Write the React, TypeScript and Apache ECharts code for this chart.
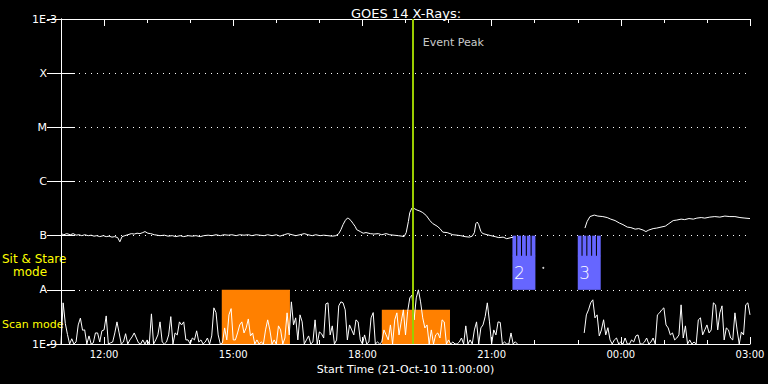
import { useEffect, useRef } from "react";
import * as echarts from "echarts";

const FONT = "DejaVu Sans";
const TITLE = "GOES 14 X-Rays:";
const X_NAME = "Start Time (21-Oct-10 11:00:00)";

// x: minutes after 21-Oct-10 11:00:00
const X_MIN = 0;
const X_MAX = 960;
const tickMinutes = [60, 240, 420, 600, 780, 960];
const tickLabels = ["12:00", "15:00", "18:00", "21:00", "00:00", "03:00"];

// y: flux in nW/m^2 (1 = 1E-9 W/m^2)
const levelExponents = [0, 1, 2, 3, 4, 5, 6];
const levelLabels = ["1E-9", "A", "B", "C", "M", "X", "1E-3"];

// Short channel (0.5-4 A), one reading every 3 minutes from 11:00
const SHORT_STEP_MIN = 3;
const shortFlux: (number | null)[] = [
  1.0, 5.75, 2.4, 1.5, 1.0, 1.25, 1.0, 1.09, 2.25, 3.0,
  1.8, 1.82, 1.0, 1.41, 1.0, 1.05, 1.6, 1.6, 1.09, 1.75,
  1.82, 3.3, 1.0, 1.05, 1.09, 1.6, 2.56, 1.6, 1.0, 1.09,
  1.55, 1.0, 1.19, 1.35, 1.6, 1.29, 1.05, 1.0, 1.19, 1.0,
  1.19, 1.0, 3.6, 1.0, 1.19, 1.47, 2.56, 1.09, 1.0, 1.09,
  1.47, 3.2, 1.0, 1.6, 1.47, 2.56, 2.25, 2.56, 1.19, 1.19,
  1.0, 1.29, 1.19, 1.75, 1.09, 1.19, 1.0, 1.09, 1.29, 1.0,
  1.41, 4.65, 3.8, 1.47, 1.0, 1.05, 1.98, 1.19, 3.45, 4.5,
  1.19, 1.19, 1.6, 2.25, 2.56, 1.6, 1.98, 2.9, 1.41, 1.6,
  1.0, 1.19, 1.0, 1.09, 1.0, 1.82, 2.79, 1.82, 1.0, 1.19,
  1.0, 2.16, 1.82, 1.0, 1.29, 3.76, 1.47, 6.0, 2.25, 3.04,
  1.19, 3.45, 2.56, 1.0, 1.19, 1.41, 1.0, 1.09, 2.79, 1.0,
  1.67, 1.55, 1.29, 5.5, 5.75, 1.47, 2.16, 1.0, 1.19, 5.06,
  6.0, 5.75, 4.27, 1.19, 2.25, 1.82, 1.47, 2.79, 2.56, 1.19,
  1.0, 1.47, 1.0, 1.09, 3.04, 3.8, 1.0, 1.09, 1.0, 1.09,
  1.82, 1.47, 1.19, 2.25, 1.0, 2.79, 3.76, 1.47, 2.56, 4.27,
  1.47, 4.0, 7.1, 8.0, 2.79, 7.1, 10, 6.0, 3.04, 1.98,
  2.25, 1.0, 1.82, 1.0, 1.47, 1.6, 1.29, 2.79, 2.56, 1.0,
  1.19, 1.0, 1.09, 1.0, 1.0, 1.09, 1.29, 1.0, 2.16, 1.0,
  1.19, 1.0, 1.82, 2.56, 1.0, 1.98, 2.25, 3.2, 5.75, 2.56,
  1.0, 1.82, 1.47, 2.56, 2.5, 1.0, 1.09, 1.0, 1.0, 1.6,
  1.0, 1.1, 1.0,
  null, null, null, null, null, null, null, null, null, null,
  null, null, null, null, null, null, null, null, null, null,
  null, null, null, null, null, null, null, null, null, null,
  1.6, 3.45, 4.27, 5.75, 6.54, 3.04, 3.45,
  1.41, 1.82, 2.8, 1.47, 2.0, 1.19, 1.0, 1.19, 1.29, 1.0,
  1.09, 1.0, 1.29, 1.0, 1.0, 1.19, 1.09, 1.41, 1.47, 1.0,
  1.0, 1.09, 1.29, 1.0, 1.09, 1.29, 1.0, 3.45, 3.76, 4.27,
  4.65, 2.25, 1.98, 1.47, 1.6, 1.19, 1.29, 1.47, 5.28, 1.29,
  2.16, 1.0, 1.19, 1.0, 1.09, 1.0, 2.79, 3.04, 1.47, 1.82,
  2.25, 1.6, 1.82, 5.75, 5.28, 1.82, 3.76, 5.06, 1.19, 1.98,
  1.82, 1.29, 1.19, 3.76, 1.82, 1.0, 1.67, 1.47, 5.28, 5.75,
  3.45,
];

// Long channel (1-8 A)
const longMinutes = [
  0, 4, 8, 13, 17, 21, 25, 29, 33, 38,
  42, 46, 50, 54, 59, 63, 67, 71, 75, 79,
  82, 85, 89, 93, 98, 102, 106, 110, 114, 117,
  121, 125, 130, 134, 138, 144, 149, 155, 160, 166,
  171, 177, 183, 188, 194, 199, 205, 210, 216, 222,
  227, 233, 238, 244, 249, 255, 261, 266, 272, 277,
  283, 288, 294, 300, 305, 311, 316, 322, 327, 333,
  339, 344, 350, 355, 361, 366, 372, 378, 383, 387,
  390, 393, 396, 399, 401, 404, 407, 410, 412, 417,
  421, 425, 431, 436, 442, 447, 453, 458, 464, 470,
  475, 478, 481, 484, 486, 489, 492, 496, 500, 504,
  509, 514, 518, 524, 528, 532, 538, 542, 546, 552,
  557, 563, 569, 573, 576, 578, 580, 582, 585, 588,
  594, 599, 605, 610, 616, 621, 627, 630, 680, 730,
  733, 737, 743, 748, 755, 761, 766, 772, 778, 783,
  789, 794, 800, 805, 811, 815, 819, 825, 830, 836,
  842, 847, 853, 858, 864, 869, 875, 881, 886, 892,
  897, 904, 911, 918, 925, 932, 939, 946, 953, 960,
];
const longFlux: (number | null)[] = [
  109, 104, 109, 104, 109, 102, 104, 100, 104, 100,
  102, 98, 100, 96, 100, 96, 98, 94, 96, 92,
  77, 96, 100, 104, 109, 107, 111, 109, 114, 119,
  111, 109, 104, 102, 100, 102, 98, 100, 96, 100,
  96, 100, 98, 100, 96, 100, 102, 100, 104, 100,
  104, 102, 104, 100, 104, 102, 104, 100, 104, 102,
  100, 104, 100, 104, 98, 104, 109, 104, 100, 104,
  109, 104, 100, 104, 100, 102, 100, 98, 100, 109,
  129, 160, 190, 211, 207, 190, 167, 147, 129, 119,
  111, 114, 109, 107, 109, 104, 109, 104, 102, 100,
  98, 96, 114, 182, 267, 324, 317, 297, 285, 267,
  235, 190, 167, 150, 135, 116, 114, 109, 104, 102,
  100, 96, 94, 98, 114, 167, 178, 160, 119, 109,
  104, 100, 96, 92, 94, 88, 92, 94, null, 138,
  182, 225, 240, 230, 225, 216, 202, 190, 171, 160,
  144, 141, 132, 135, 127, 119, 127, 135, 138, 144,
  150, 167, 190, 194, 202, 198, 207, 202, 211, 216,
  211, 220, 225, 220, 230, 225, 225, 216, 211, 207,
];

const strayPoint = [672, 25.5];

// Scan mode periods: [start min, end min, top flux]
const scanPeriods = [
  [224, 319, 10],
  [447, 542, 4.3],
];
// Sit & Stare periods: [start min, end min]
const sitStarePeriods = [
  [629, 661],
  [720, 752],
];
const sitStareLabels = ["2", "3"];
const SIT_STARE_TOP = 100;
const SIT_STARE_SPLIT = 42.6;
const SIT_STARE_BOTTOM = 10;

const eventPeakMinute = 490;
const eventLabelFlux = 375000;

const WHITE = "#ffffff";
const ORANGE = "#ff8000";
const BLUE = "#6666ff";
const EVENT = "#9acd00";
const YELLOW = "#ffff00";

export default function App() {
  const ref = useRef<HTMLDivElement>(null);

  useEffect(() => {
    if (!ref.current) return;
    const chart = echarts.init(ref.current, null, { renderer: "svg" });

    const xBase = { type: "value", min: X_MIN, max: X_MAX, splitLine: { show: false } };
    const tickLine = { color: WHITE, width: 1 };

    const option: any = {
      backgroundColor: "#000000",
      animation: false,
      title: {
        text: TITLE,
        left: 401,
        top: 2,
        textAlign: "center",
        textStyle: { color: WHITE, fontSize: 13, fontWeight: "normal", fontFamily: FONT },
      },
      grid: { left: 61, right: 18, top: 19, bottom: 40, containLabel: false },
      xAxis: [
        {
          ...xBase,
          position: "bottom",
          interval: 60,
          axisLine: { show: true, lineStyle: tickLine },
          axisTick: { show: true, inside: true, length: 4, lineStyle: tickLine },
          axisLabel: {
            customValues: tickMinutes,
            formatter: (v: number) => {
              const i = tickMinutes.indexOf(Math.round(v));
              return i >= 0 ? tickLabels[i] : "";
            },
            color: WHITE,
            fontSize: 10,
            fontFamily: FONT,
            margin: 5,
          },
          name: X_NAME,
          nameLocation: "middle",
          nameGap: 19,
          nameTextStyle: { color: WHITE, fontSize: 11, fontFamily: FONT },
        },
        {
          ...xBase,
          position: "bottom",
          axisLine: { show: false },
          axisTick: { show: true, inside: true, length: 7, customValues: tickMinutes, lineStyle: tickLine },
          axisLabel: { show: false },
        },
        {
          ...xBase,
          position: "top",
          interval: 60,
          axisLine: { show: true, lineStyle: tickLine },
          axisTick: { show: true, inside: true, length: 4, lineStyle: tickLine },
          axisLabel: { show: false },
        },
        {
          ...xBase,
          position: "top",
          axisLine: { show: false },
          axisTick: { show: true, inside: true, length: 7, customValues: tickMinutes, lineStyle: tickLine },
          axisLabel: { show: false },
        },
      ],
      yAxis: [
        {
          type: "log",
          logBase: 10,
          min: 1,
          max: 1e6,
          splitNumber: 6,
          position: "left",
          axisLine: { show: true, lineStyle: tickLine },
          axisTick: { show: true, inside: true, length: 14, lineStyle: tickLine },
          splitLine: { show: true, lineStyle: { color: WHITE, width: 1, type: [1, 5] } },
          axisLabel: {
            color: WHITE,
            fontSize: 11,
            fontFamily: FONT,
            margin: 4,
            formatter: (v: number) => {
              const e = Math.round(Math.log10(v));
              const i = levelExponents.indexOf(e);
              if (i < 0) return "";
              const t = levelLabels[i];
              return t.length === 1 ? `{c|${t}}` : `{n|${t}}`;
            },
            rich: {
              c: { color: WHITE, fontSize: 11, fontFamily: FONT, padding: [0, 10, 0, 0] },
              n: { color: WHITE, fontSize: 11, fontFamily: FONT },
            },
          },
        },
        {
          type: "log",
          logBase: 10,
          min: 1,
          max: 1e6,
          splitNumber: 6,
          position: "right",
          axisLine: { show: true, lineStyle: tickLine },
          axisTick: { show: true, inside: true, length: 14, lineStyle: tickLine },
          splitLine: { show: false },
          axisLabel: { show: false },
        },
      ],
      graphic: [
        {
          type: "text",
          x: 2,
          y: 259,
          style: {
            text: "Sit & Stare",
            fill: YELLOW,
            fontSize: 12,
            lineHeight: 12,
            fontFamily: FONT,
            verticalAlign: "middle",
          },
        },
        {
          type: "text",
          x: 13,
          y: 271.5,
          style: {
            text: "mode",
            fill: YELLOW,
            fontSize: 12,
            lineHeight: 12,
            fontFamily: FONT,
            verticalAlign: "middle",
          },
        },
        {
          type: "text",
          x: 2,
          y: 324,
          style: { text: "Scan mode", fill: YELLOW, fontSize: 11, fontFamily: FONT, verticalAlign: "middle" },
        },
      ],
      series: [
        {
          name: "Scan mode",
          type: "custom",
          z: 1,
          data: scanPeriods,
          encode: { x: [0, 1], y: 2 },
          renderItem: (params: any, api: any) => {
            const p0 = api.coord([api.value(0), api.value(2)]);
            const p1 = api.coord([api.value(1), 1]);
            return {
              type: "rect",
              shape: { x: p0[0], y: p0[1], width: p1[0] - p0[0], height: p1[1] - p0[1] },
              style: { fill: ORANGE },
            };
          },
        },
        {
          name: "Sit & Stare",
          type: "custom",
          z: 2,
          data: sitStarePeriods,
          encode: { x: [0, 1] },
          renderItem: (params: any, api: any) => {
            const pTop = api.coord([api.value(0), SIT_STARE_TOP]);
            const pSplit = api.coord([api.value(1), SIT_STARE_SPLIT]);
            const pBot = api.coord([api.value(1), SIT_STARE_BOTTOM]);
            const x0 = pTop[0];
            const w = pBot[0] - x0;
            const gap = w * 0.045;
            const sw = (w - gap * 4) / 5;
            const children: any[] = [
              {
                type: "rect",
                shape: { x: x0, y: pSplit[1], width: w, height: pBot[1] - pSplit[1] },
                style: { fill: BLUE },
              },
            ];
            for (let k = 0; k < 5; k++) {
              children.push({
                type: "rect",
                shape: { x: x0 + k * (sw + gap), y: pTop[1], width: sw, height: pSplit[1] - pTop[1] + 0.5 },
                style: { fill: BLUE },
              });
            }
            children.push({
              type: "text",
              x: x0 + 1.5,
              y: (pSplit[1] + pBot[1]) / 2 + 0.5,
              style: {
                text: sitStareLabels[params.dataIndex],
                fill: WHITE,
                fontSize: 17,
                fontWeight: 200,
                fontFamily: FONT,
                verticalAlign: "middle",
                align: "left",
              },
            });
            return { type: "group", children };
          },
        },
        {
          name: "Short channel",
          type: "line",
          z: 3,
          showSymbol: false,
          connectNulls: false,
          lineStyle: { color: WHITE, width: 1 },
          data: shortFlux.map((v, i) => [i * SHORT_STEP_MIN, v]),
        },
        {
          name: "Long channel",
          type: "line",
          z: 3,
          showSymbol: false,
          connectNulls: false,
          lineStyle: { color: WHITE, width: 1 },
          data: longMinutes.map((m, i) => [m, longFlux[i]]),
          markLine: {
            silent: true,
            symbol: ["none", "none"],
            label: { show: false },
            lineStyle: { color: EVENT, width: 2, type: "solid" },
            data: [{ xAxis: eventPeakMinute }],
          },
        },
        {
          name: "Stray",
          type: "scatter",
          z: 3,
          symbolSize: 2,
          itemStyle: { color: WHITE },
          data: [strayPoint],
        },
        {
          name: "Event Peak",
          type: "scatter",
          z: 4,
          symbolSize: 0,
          data: [[eventPeakMinute, eventLabelFlux]],
          label: {
            show: true,
            position: "right",
            distance: 10,
            formatter: "Event Peak",
            color: WHITE,
            fontSize: 11,
            fontFamily: FONT,
          },
        },
      ],
    };

    chart.setOption(option);
    return () => chart.dispose();
  }, []);

  return (
    <div
      ref={ref}
      style={{ position: "absolute", left: 0, top: 0, width: 768, height: 384, background: "#000" }}
    />
  );
}
